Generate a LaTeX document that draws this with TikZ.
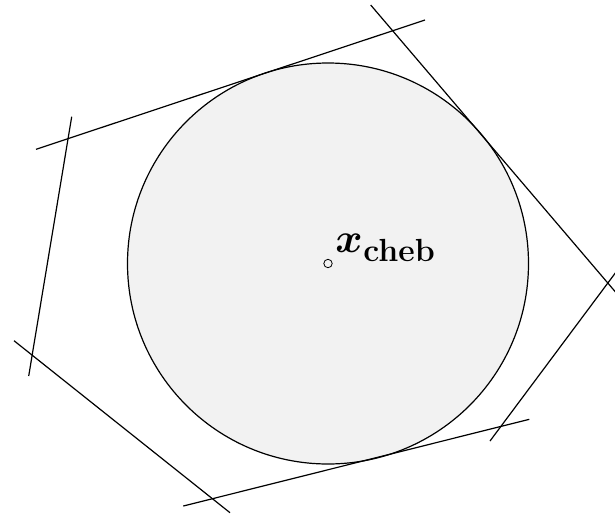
\documentclass[tikz,border=0pt]{standalone}
\usepackage{amsmath}
\begin{document}
\begin{tikzpicture}[x=0.5pt,y=-0.5pt,
  hyper/.style={line width=0.6pt, black},
  ball/.style={draw=black, line width=0.6pt, fill=black!5},
  centremark/.style={draw=black, line width=0.4pt, circle, inner sep=0pt, minimum size=4.2pt}]
\useasboundingbox (0,0) rectangle (615,515);
% Chebyshev ball
\draw[ball] (328,263.5) circle[radius=200.5];
\node[centremark] (c) at (328,263.5) {};
\node[anchor=base west, inner sep=0pt] (lab) at (335,252)
  {\fontsize{20}{24}\selectfont$\boldsymbol{x}$\kern0.3pt\raisebox{-4.5pt}{\fontsize{16}{18}\selectfont\bfseries cheb}};
% hyperplanes
\coordinate (t1) at (36,149.3);   \coordinate (t2) at (425,20);
\coordinate (r1) at (370.7,5);    \coordinate (r2) at (624,302);
\coordinate (s1) at (622,264);    \coordinate (s2) at (490,441);
\coordinate (b1) at (529.3,419.3);\coordinate (b2) at (183.3,506);
\coordinate (d1) at (230,512.7);  \coordinate (d2) at (14,340.7);
\coordinate (l1) at (28.7,376);   \coordinate (l2) at (71.7,116.7);
\draw[hyper] (t1) -- (t2);
\draw[hyper] (r1) -- (r2);
\draw[hyper] (s1) -- (s2);
\draw[hyper] (b1) -- (b2);
\draw[hyper] (d1) -- (d2);
\draw[hyper] (l1) -- (l2);
\end{tikzpicture}
\end{document}
